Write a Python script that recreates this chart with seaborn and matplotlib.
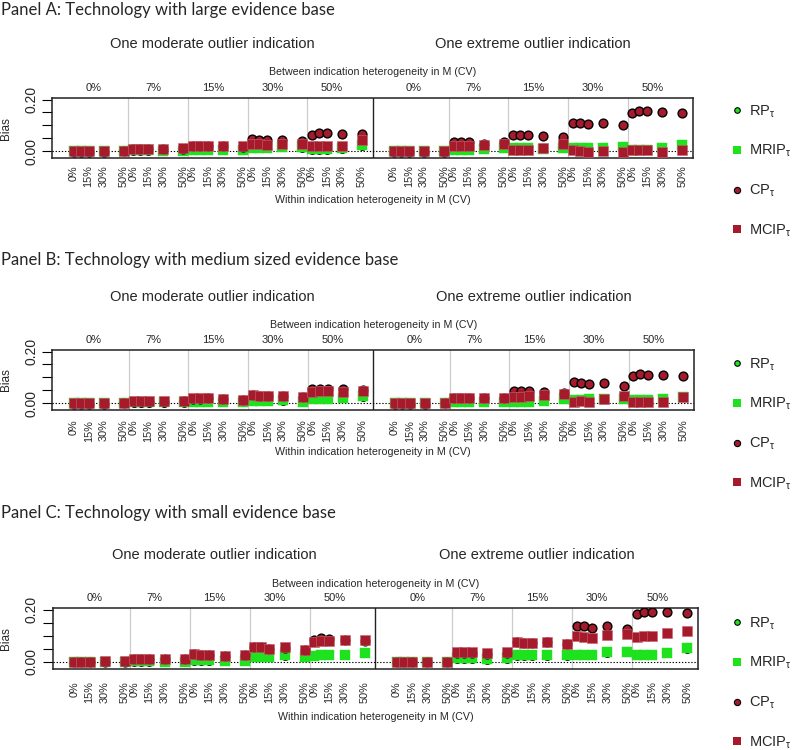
import numpy as np
import pandas as pd
import matplotlib
matplotlib.use("Agg")
import matplotlib.pyplot as plt
import matplotlib.transforms as mtrans
from matplotlib.lines import Line2D
import seaborn as sns

# ---------------- data ----------------
within_levels = [0, 7, 15, 30, 50]
within_tick_labels = ["0%", "15%", "30%", "50%"]
within_tick_levels = [0, 15, 30, 50]
between_labels = ["0%", "7%", "15%", "30%", "50%"]
outlier_titles = ["One moderate outlier indication", "One extreme outlier indication"]
panel_titles = ["Panel A: Technology with large evidence base",
                "Panel B: Technology with medium sized evidence base",
                "Panel C: Technology with small evidence base"]
series_names = ["RP", "MRIP", "CP", "MCIP"]

# each list: 10 groups (moderate 0,7,15,30,50% then extreme 0,7,15,30,50%), 5 within levels
A_RP = [[0.000, 0.000, 0.000, -0.001, 0.000], [0.003, 0.003, 0.003, 0.002, 0.002],
        [0.006, 0.006, 0.006, 0.005, 0.005], [0.012, 0.012, 0.012, 0.015, 0.014],
        [0.007, 0.007, 0.007, 0.010, 0.022],
        [0.000, 0.000, 0.000, 0.000, 0.000], [0.004, 0.004, 0.004, 0.009, 0.011],
        [0.011, 0.011, 0.011, 0.010, 0.012], [0.011, 0.011, 0.011, 0.013, 0.017],
        [0.004, 0.005, 0.005, 0.013, 0.022]]
A_MRIP = [[0.000, 0.000, 0.000, 0.000, 0.000], [0.004, 0.004, 0.004, 0.003, 0.003],
          [0.007, 0.007, 0.007, 0.006, 0.006], [0.013, 0.013, 0.013, 0.016, 0.015],
          [0.008, 0.008, 0.008, 0.011, 0.024],
          [0.000, 0.000, 0.000, 0.000, 0.000], [0.005, 0.005, 0.005, 0.010, 0.012],
          [0.012, 0.012, 0.012, 0.010, 0.013], [0.012, 0.012, 0.012, 0.014, 0.018],
          [0.005, 0.006, 0.006, 0.014, 0.023]]
A_CP = [[-0.002, -0.002, -0.002, -0.002, 0.000], [0.008, 0.008, 0.008, 0.008, 0.009],
        [0.020, 0.020, 0.019, 0.020, 0.018], [0.049, 0.045, 0.042, 0.042, 0.040],
        [0.064, 0.070, 0.072, 0.065, 0.067],
        [-0.002, -0.002, -0.002, -0.003, -0.001], [0.036, 0.036, 0.035, 0.030, 0.036],
        [0.062, 0.062, 0.062, 0.061, 0.055], [0.110, 0.109, 0.106, 0.108, 0.103],
        [0.147, 0.155, 0.156, 0.151, 0.147]]
A_MCIP = [[0.001, 0.001, 0.001, 0.002, 0.001], [0.010, 0.010, 0.010, 0.010, 0.011],
          [0.022, 0.022, 0.021, 0.020, 0.020], [0.028, 0.027, 0.026, 0.028, 0.030],
          [0.019, 0.019, 0.019, 0.022, 0.044],
          [0.000, 0.000, 0.000, 0.001, 0.001], [0.022, 0.022, 0.021, 0.024, 0.030],
          [0.005, 0.005, 0.005, 0.014, 0.027], [0.004, 0.003, -0.001, 0.002, -0.002],
          [0.004, 0.004, 0.004, -0.004, 0.006]]

B_RP = [[0.000, 0.000, 0.000, -0.001, 0.000], [0.002, 0.002, 0.002, 0.002, 0.002],
        [0.004, 0.004, 0.004, 0.003, 0.003], [0.008, 0.008, 0.008, 0.009, 0.004],
        [0.014, 0.014, 0.014, 0.018, 0.025],
        [0.000, 0.000, 0.000, 0.000, 0.000], [0.005, 0.005, 0.005, 0.005, 0.004],
        [0.005, 0.005, 0.005, 0.008, 0.014], [0.009, 0.009, 0.014, 0.014, 0.014],
        [0.012, 0.012, 0.012, 0.014, 0.022]]
B_MRIP = [[0.000, 0.000, 0.000, 0.000, 0.000], [0.003, 0.003, 0.003, 0.003, 0.003],
          [0.005, 0.005, 0.005, 0.004, 0.004], [0.009, 0.009, 0.009, 0.010, 0.005],
          [0.015, 0.015, 0.015, 0.019, 0.026],
          [0.000, 0.000, 0.000, 0.000, 0.000], [0.006, 0.006, 0.006, 0.006, 0.005],
          [0.006, 0.006, 0.006, 0.009, 0.015], [0.010, 0.010, 0.015, 0.015, 0.015],
          [0.013, 0.013, 0.013, 0.015, 0.023]]
B_CP = [[-0.002, -0.002, -0.002, -0.004, -0.001], [0.006, 0.006, 0.006, 0.003, 0.007],
        [0.017, 0.017, 0.018, 0.015, 0.013], [0.030, 0.028, 0.027, 0.027, 0.022],
        [0.053, 0.056, 0.053, 0.053, 0.051],
        [-0.002, -0.002, -0.002, -0.004, -0.001], [0.021, 0.021, 0.020, 0.018, 0.019],
        [0.047, 0.045, 0.045, 0.041, 0.038], [0.080, 0.076, 0.074, 0.076, 0.068],
        [0.104, 0.112, 0.108, 0.108, 0.104]]
B_MCIP = [[0.001, 0.001, 0.001, 0.001, 0.002], [0.009, 0.009, 0.009, 0.008, 0.009],
          [0.019, 0.019, 0.019, 0.015, 0.013], [0.032, 0.028, 0.028, 0.028, 0.023],
          [0.042, 0.045, 0.045, 0.042, 0.047],
          [0.001, 0.001, 0.001, 0.001, 0.001], [0.019, 0.019, 0.019, 0.019, 0.019],
          [0.025, 0.025, 0.028, 0.032, 0.034], [0.006, 0.009, 0.006, 0.015, 0.028],
          [0.006, 0.006, 0.003, 0.003, 0.023]]

C_RP = [[0.000, 0.000, 0.000, -0.002, -0.002], [0.001, 0.001, 0.001, 0.001, 0.001],
        [0.005, 0.005, 0.005, 0.003, 0.003], [0.018, 0.018, 0.017, 0.024, 0.019],
        [0.023, 0.026, 0.027, 0.027, 0.034],
        [0.000, 0.000, 0.000, 0.000, 0.000], [0.013, 0.013, 0.013, 0.009, 0.013],
        [0.024, 0.024, 0.024, 0.024, 0.024], [0.027, 0.027, 0.027, 0.035, 0.038],
        [0.027, 0.027, 0.027, 0.033, 0.051]]
C_MRIP = [[0.000, 0.000, 0.000, -0.001, -0.001], [0.002, 0.002, 0.002, 0.001, 0.001],
          [0.006, 0.006, 0.006, 0.003, 0.003], [0.019, 0.019, 0.018, 0.025, 0.019],
          [0.024, 0.027, 0.028, 0.028, 0.034],
          [0.000, 0.000, 0.000, 0.000, 0.000], [0.015, 0.015, 0.015, 0.011, 0.015],
          [0.025, 0.025, 0.025, 0.025, 0.025], [0.028, 0.028, 0.028, 0.037, 0.038],
          [0.028, 0.028, 0.028, 0.034, 0.053]]
C_CP = [[-0.002, -0.002, -0.002, -0.002, 0.000], [0.012, 0.012, 0.012, 0.012, 0.012],
        [0.029, 0.026, 0.026, 0.022, 0.026], [0.056, 0.056, 0.050, 0.054, 0.047],
        [0.085, 0.092, 0.088, 0.082, 0.080],
        [-0.002, -0.002, -0.002, -0.002, -0.001], [0.035, 0.035, 0.035, 0.032, 0.035],
        [0.075, 0.074, 0.074, 0.075, 0.070], [0.139, 0.136, 0.130, 0.136, 0.127],
        [0.183, 0.191, 0.190, 0.190, 0.187]]
C_MCIP = [[0.000, 0.000, 0.000, 0.002, 0.002], [0.013, 0.013, 0.013, 0.013, 0.013],
          [0.031, 0.028, 0.028, 0.024, 0.028], [0.056, 0.056, 0.050, 0.056, 0.047],
          [0.076, 0.079, 0.079, 0.082, 0.082],
          [0.000, 0.000, 0.000, 0.001, 0.001], [0.037, 0.037, 0.037, 0.034, 0.037],
          [0.075, 0.073, 0.073, 0.075, 0.070], [0.098, 0.096, 0.092, 0.104, 0.107],
          [0.094, 0.098, 0.098, 0.111, 0.117]]

panel_data = [
    {"RP": A_RP, "MRIP": A_MRIP, "CP": A_CP, "MCIP": A_MCIP},
    {"RP": B_RP, "MRIP": B_MRIP, "CP": B_CP, "MCIP": B_MCIP},
    {"RP": C_RP, "MRIP": C_MRIP, "CP": C_CP, "MCIP": C_MCIP},
]

# ---------------- style ----------------
sns.set_style("white")
plt.rcParams["font.family"] = ["Liberation Sans", "DejaVu Sans"]
plt.rcParams["mathtext.fontset"] = "custom"
plt.rcParams["mathtext.rm"] = "Liberation Sans"
plt.rcParams["mathtext.it"] = "Liberation Sans"
plt.rcParams["mathtext.default"] = "regular"

GREEN = "#1fe21f"
RED = "#a61b2b"
GROUP_STEP = 59.5
HALF_STEP = 320.0
LEFT_PAD = 21.5

W, H = 794, 750
fig = plt.figure(figsize=(W / 100, H / 100), dpi=100)


def fx(px):
    return px / W


def fy(py):
    return 1 - py / H


# per-panel layout in pixels
layout = [
    dict(ax=(52, 98, 693, 158.3), title=10, sub=44, between=72, grp=88, pad=5, within=200, leg=171),
    dict(ax=(52.3, 350, 694, 410), title=260, sub=297, between=325, grp=340, pad=7, within=452, leg=424),
    dict(ax=(52.7, 608, 698, 669), title=513, sub=555, between=584, grp=598, pad=9, within=717, leg=683),
]

styles = {
    "RP": dict(marker="o", s=30, color=GREEN, edgecolor="black", linewidth=0.9, zorder=3),
    "MRIP": dict(marker="s", s=44, color=GREEN, edgecolor=GREEN, linewidth=0.3, zorder=4),
    "CP": dict(marker="o", s=40, color=RED, edgecolor="black", linewidth=1.0, zorder=5),
    "MCIP": dict(marker="s", s=44, color=RED, edgecolor="#c56470", linewidth=0.4, zorder=6),
}

for p, (pdata, lay) in enumerate(zip(panel_data, layout)):
    rows = []
    for s in series_names:
        for g, vals in enumerate(pdata[s]):
            half, bi = divmod(g, 5)
            for wi, v in enumerate(vals):
                rows.append(dict(series=s, half=half, between=bi, within=within_levels[wi],
                                 x=half * HALF_STEP + bi * GROUP_STEP + within_levels[wi], bias=v))
    df = pd.DataFrame(rows)

    x0, y0, x1, y1 = lay["ax"]
    ax = fig.add_axes([fx(x0), fy(y1), fx(x1 - x0), (y1 - y0) / H])

    for s in series_names:
        st = styles[s]
        sns.scatterplot(data=df[df.series == s], x="x", y="bias", ax=ax, legend=False, **st)

    # separators
    for half in range(2):
        for k in range(1, 5):
            ax.axvline(half * HALF_STEP + k * GROUP_STEP - 4.75, color="#cccccc", lw=0.9, zorder=0)
    ax.axvline(HALF_STEP - LEFT_PAD, color="#222222", lw=1.0, zorder=1)
    ax.axhline(0, color="black", lw=0.8, ls=(0, (1.2, 1.6)), zorder=2)

    ax.set_xlim(-LEFT_PAD, 2 * HALF_STEP - LEFT_PAD)
    ax.set_ylim(-0.027, 0.206)

    # bottom ticks (within-indication heterogeneity)
    xt, xl = [], []
    for half in range(2):
        for bi in range(5):
            for lv, lb in zip(within_tick_levels, within_tick_labels):
                xt.append(half * HALF_STEP + bi * GROUP_STEP + lv)
                xl.append(lb)
    ax.set_xticks(xt)
    ax.set_xticklabels(xl, rotation=90, fontsize=7.8, va="top", ha="center")
    ax.tick_params(axis="x", length=0, pad=lay["pad"])

    ax.set_yticks([0, 0.05, 0.10, 0.15, 0.20])
    ax.set_yticklabels(["0.00", "", "", "", "0.20"], fontsize=10)
    for lbl in ax.get_yticklabels():
        lbl.set_rotation(90)
        lbl.set_va("center")
        lbl.set_ha("right")
    ax.tick_params(axis="y", length=7, width=0.8, pad=3, left=True, color="black")
    ax.set_xlabel("")
    ax.set_ylabel("")
    for sp in ax.spines.values():
        sp.set_color("#222222")
        sp.set_linewidth(1.1)

    # top group labels (between-indication heterogeneity)
    trans = mtrans.blended_transform_factory(ax.transData, fig.transFigure)
    for half in range(2):
        for bi, lb in enumerate(between_labels):
            ax.text(half * HALF_STEP + bi * GROUP_STEP + 20, fy(lay["grp"]), lb,
                    transform=trans, ha="center", va="center", fontsize=8)
        ax.text(half * HALF_STEP + (HALF_STEP - 2 * LEFT_PAD) / 2,
                fy(lay["sub"]), outlier_titles[half], transform=trans,
                ha="center", va="center", fontsize=10.5)

    cx = (x0 + x1) / 2
    fig.text(fx(cx), fy(lay["between"]), "Between indication heterogeneity in M (CV)",
             ha="center", va="center", fontsize=7.7)
    fig.text(fx(cx), fy(lay["within"]), "Within indication heterogeneity in M (CV)",
             ha="center", va="center", fontsize=7.7)
    fig.text(fx(6), fy((y0 + y1) / 2), "Bias", rotation=90, ha="center", va="center", fontsize=8.5)
    fig.text(fx(1), fy(lay["title"]), panel_titles[p], ha="left", va="center",
             fontsize=12, family=["Lato", "DejaVu Sans"])

    handles = [
        Line2D([], [], ls="none", marker="o", markersize=4, markerfacecolor=GREEN,
               markeredgecolor="black", markeredgewidth=0.8),
        Line2D([], [], ls="none", marker="s", markersize=5.5, markerfacecolor=GREEN,
               markeredgecolor=GREEN, markeredgewidth=0),
        Line2D([], [], ls="none", marker="o", markersize=4.5, markerfacecolor=RED,
               markeredgecolor="black", markeredgewidth=0.8),
        Line2D([], [], ls="none", marker="s", markersize=5.5, markerfacecolor=RED,
               markeredgecolor=RED, markeredgewidth=0),
    ]
    labels = [n + "$_{τ}$" for n in series_names]
    fig.legend(handles, labels, loc="center left", bbox_to_anchor=(fx(731), fy(lay["leg"])),
               frameon=False, fontsize=10.5, handlelength=0.8, handletextpad=0.45,
               labelspacing=1.6, borderpad=0, borderaxespad=0)

fig.savefig("out.png", dpi=100)
